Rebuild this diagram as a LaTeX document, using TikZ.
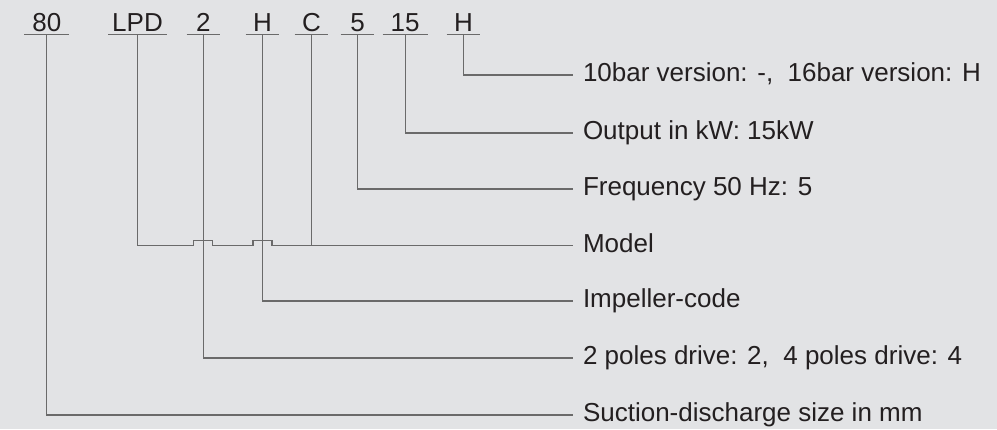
\documentclass[tikz,border=0pt]{standalone}
\usepackage{fontspec}
\setmainfont{Liberation Sans}
\definecolor{bg}{HTML}{E2E3E5}
\definecolor{ln}{HTML}{6A6A6A}
\definecolor{tx}{HTML}{231F20}
\begin{document}
\begin{tikzpicture}[x=1pt,y=-1pt,
  font=\fontsize{26}{30}\selectfont,
  toplab/.style={anchor=base,inner xsep=0pt,inner ysep=3.3pt,outer sep=0pt,text=tx,minimum width=#1},
  desc/.style={anchor=west,inner xsep=10pt,inner ysep=0pt,outer sep=0pt,text=tx,text height=18.6pt,text depth=5.5pt},
  conn/.style={draw=ln,line width=1.3pt},
  uline/.style={draw=ln,line width=1.6pt}]
\useasboundingbox[fill=bg] (0,0) rectangle (997,429);
% top code labels
\node[toplab=45pt] (n80) at (46.8,31) {80};
\node[toplab=58.4pt] (nLPD) at (137.5,31) {LPD};
\node[toplab=33.3pt] (n2) at (203.3,31) {2};
\node[toplab=33.6pt] (nH) at (262.5,31) {H};
\node[toplab=33.6pt] (nC) at (311.5,31) {C};
\node[toplab=33.6pt] (n5) at (357.5,31) {5};
\node[toplab=45pt] (n15) at (405.2,31) {15};
\node[toplab=33.6pt] (nHH) at (463.5,31) {H};
\foreach \n in {n80,nLPD,n2,nH,nC,n5,n15,nHH}
  \draw[uline] (\n.south west) -- (\n.south east);
% descriptions
\node[desc] (bar) at (573,75) {10bar version: -,\ \ 16bar version: H};
\node[desc] (kw) at (573,133) {Output in kW: 15kW};
\node[desc] (freq) at (573,189) {Frequency 50 Hz: 5};
\node[desc] (model) at (573,245.5) {Model};
\node[desc] (imp) at (573,301) {Impeller-code};
\node[desc] (poles) at (573,358) {2 poles drive: 2,\ \ 4 poles drive: 4};
\node[desc] (size) at (573,415) {Suction-discharge size in mm};
% connectors
\draw[conn] (nHH.south) |- (bar.west);
\draw[conn] (n15.south) |- (kw.west);
\draw[conn] (n5.south) |- (freq.west);
\draw[conn] (nLPD.south) |- ([xshift=-9.5pt]n2.south |- model.west)
  -- ++(0,-5) -- ++(19,0) -- ++(0,5)
  -- ([xshift=-9.5pt]nH.south |- model.west)
  -- ++(0,-5) -- ++(19,0) -- ++(0,5) -- (model.west);
\draw[conn] (nC.south) -- (nC.south |- model.west);
\draw[conn] (nH.south) |- (imp.west);
\draw[conn] (n2.south) |- (poles.west);
\draw[conn] (n80.south) |- (size.west);
\end{tikzpicture}
\end{document}
